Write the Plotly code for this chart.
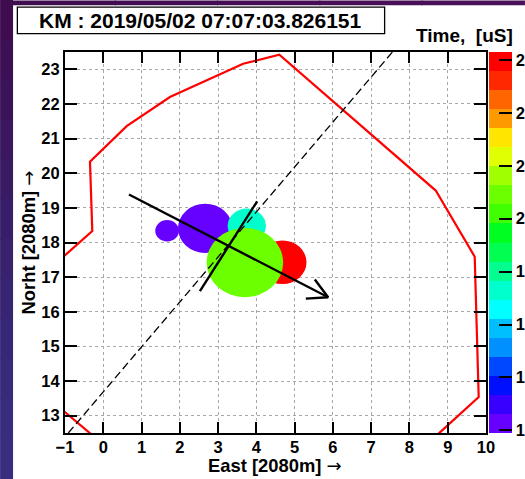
import plotly.graph_objects as go

# ---------------- data ----------------
x_range = [-1, 10]
y_range = [12.5, 23.5]
x_ticks = list(range(-1, 11))
y_ticks = list(range(13, 24))

# red boundary polygon (goes outside the frame and is clipped)
border_x = [-1.5, -1.0, -0.287, -0.347, 0.611, 1.741, 3.655, 4.60, 8.687, 9.705, 9.809, 8.79, 8.3, 0.0, -0.366, -1.0, -1.5, -1.5]
border_y = [17.14, 17.63, 18.33, 20.33, 21.36, 22.20, 23.16, 23.42, 19.50, 17.59, 13.54, 12.51, 12.0, 12.17, 12.51, 13.10, 13.57, 17.14]

# dashed long line
dash_x = [-0.914, 7.556]
dash_y = [12.5, 23.5]

# short solid line
short_x = [2.525, 4.021]
short_y = [16.595, 19.19]

# arrow shaft and head
arrow_x = [0.671, 5.875]
arrow_y = [19.385, 16.42]
head_x = [5.527, 5.875, 5.292]
head_y = [16.93, 16.42, 16.38]

# sources: centre, radius (data units), time [uS]
circle_x = [1.668, 2.663, 4.68, 3.75, 3.70]
circle_y = [18.34, 18.41, 17.43, 18.48, 17.42]
circle_r = [0.31, 0.71, 0.63, 0.50, 1.00]
circle_t = [18.05, 18.10, 21.50, 19.30, 20.20]

t_min, t_max = 17.975, 21.575
cbar_ticks = [18, 18.5, 19, 19.5, 20, 20.5, 21, 21.5]

band_colors = ["#6600FF", "#3800FF", "#0010FF", "#0048FF", "#0090FF", "#00BFFF",
               "#00FFFF", "#00FFCC", "#00FF90", "#00FF50", "#00FF20", "#40FF00",
               "#6CFF00", "#A0FF00", "#E0FF00", "#FFE600", "#FF9900", "#FF6600",
               "#FF2800", "#FF0000"]

title_text = "KM : 2019/05/02 07:07:03.826151"
x_title = "East [2080m]"
y_title = "Norht [2080m]"

# ---------------- layout helpers ----------------
W, H = 525, 479
L, R, T, B = 65, 486.5, 51.7, 433.3
def px_x(p):
    return (p - L) / (R - L)
def px_y(p):
    return (B - p) / (B - T)

n = len(band_colors)
colorscale = []
for i, c in enumerate(band_colors):
    colorscale.append([i / n, c])
    colorscale.append([(i + 1) / n, c])

def band_color(t):
    k = int((t - t_min) / (t_max - t_min) * n)
    k = max(0, min(n - 1, k))
    return band_colors[k]

font = "Liberation Sans, Arial, sans-serif"
arrow_span = "<span style='font-family:DejaVu Sans;font-weight:normal;font-size:18px'>\u2192</span>"

fig = go.Figure()

fig.add_trace(go.Scatter(x=border_x, y=border_y, mode="lines",
                         line=dict(color="#ff0000", width=2.2), hoverinfo="skip"))
fig.add_trace(go.Scatter(x=dash_x, y=dash_y, mode="lines",
                         line=dict(color="black", width=1.3, dash="8px,4px"), hoverinfo="skip"))
fig.add_trace(go.Scatter(x=short_x, y=short_y, mode="lines",
                         line=dict(color="black", width=2.4), hoverinfo="skip"))
fig.add_trace(go.Scatter(x=arrow_x, y=arrow_y, mode="lines",
                         line=dict(color="black", width=2.4), hoverinfo="skip"))
fig.add_trace(go.Scatter(x=head_x, y=head_y, mode="lines",
                         line=dict(color="black", width=2.4), hoverinfo="skip"))

# colour scale carrier
fig.add_trace(go.Scatter(
    x=circle_x, y=circle_y, mode="markers",
    marker=dict(color=circle_t, cmin=t_min, cmax=t_max, colorscale=colorscale,
                size=1, opacity=0, showscale=True,
                colorbar=dict(x=px_x(490), xanchor="left", xpad=0, ypad=0,
                              y=0, yanchor="bottom", len=1, lenmode="fraction",
                              thickness=23, outlinewidth=0,
                              ticks="inside", ticklen=13, tickwidth=2, tickcolor="black",
                              tickvals=cbar_ticks,
                              tickfont=dict(family=font, size=16.5, color="black", weight="bold"))),
    hoverinfo="skip"))

shapes = []
# dark background strips
left_cols = ["#3f0c50", "#3d0f55", "#3b1359", "#3a175e", "#391b63", "#381e68",
             "#38216d", "#372472", "#372776", "#372a7a", "#372c7d", "#382e80"]
for i, c in enumerate(left_cols):
    y0 = i * H / len(left_cols)
    y1 = (i + 1) * H / len(left_cols)
    shapes.append(dict(type="rect", xref="paper", yref="paper", layer="below",
                       x0=px_x(0), x1=px_x(13), y0=px_y(y1 + 0.5), y1=px_y(y0 - 0.5),
                       fillcolor=c, line=dict(width=0)))
top_cols = ["#3f0c50", "#420d52", "#450e54", "#480f56", "#4a1058"]
for i, c in enumerate(top_cols):
    x0 = 13 + i * (W - 13) / len(top_cols)
    x1 = 13 + (i + 1) * (W - 13) / len(top_cols)
    shapes.append(dict(type="rect", xref="paper", yref="paper", layer="below",
                       x0=px_x(x0 - 0.5), x1=px_x(x1 + 0.5), y0=px_y(5), y1=px_y(0),
                       fillcolor=c, line=dict(width=0)))
# title box
shapes.append(dict(type="rect", xref="paper", yref="paper", layer="above",
                   x0=px_x(17.3), x1=px_x(385), y0=px_y(33.3), y1=px_y(6.7),
                   fillcolor="white", line=dict(color="black", width=1.3)))
# sources as circles in data units
for cx, cy, r, t in zip(circle_x, circle_y, circle_r, circle_t):
    shapes.append(dict(type="circle", xref="x", yref="y", layer="between",
                       x0=cx - r, x1=cx + r, y0=cy - r, y1=cy + r,
                       fillcolor=band_color(t), line=dict(width=0)))

annotations = [
    dict(text=title_text, xref="paper", yref="paper", x=px_x(201), y=px_y(20.5),
         xanchor="center", yanchor="middle", showarrow=False,
         font=dict(family=font, size=21, color="black", weight="bold")),
    dict(text="Time,\u00a0 [uS]", xref="paper", yref="paper", x=px_x(515.5), y=px_y(35),
         xanchor="right", yanchor="middle", showarrow=False,
         font=dict(family=font, size=19, color="black", weight="bold")),
    # x-axis title
    dict(text="<b>" + x_title + "</b> " + arrow_span, xref="paper", yref="paper",
         x=px_x(275.5), y=px_y(478), xanchor="center", yanchor="bottom", showarrow=False,
         font=dict(family=font, size=18.4, color="black")),
]

axis_common = dict(showline=True, linecolor="black", linewidth=2, mirror="ticks",
                   ticks="inside", tickwidth=2, tickcolor="black",
                   showgrid=True, gridcolor="#a8a8a8", gridwidth=1, griddash="dot",
                   zeroline=False, fixedrange=True,
                   tickfont=dict(family=font, size=16.5, color="black", weight="bold"))

fig.update_layout(
    width=W, height=H,
    margin=dict(l=L, r=W - R, t=T, b=H - B, pad=0, autoexpand=False),
    paper_bgcolor="white", plot_bgcolor="white",
    showlegend=False,
    shapes=shapes, annotations=annotations,
    xaxis=dict(range=x_range, tickvals=x_ticks, ticklen=11, ticklabelstandoff=-2,
               **axis_common),
    yaxis=dict(range=y_range, tickvals=y_ticks, ticklen=12,
               title=dict(text="<b>" + y_title + "</b> " + arrow_span, standoff=1,
                          font=dict(family=font, size=18.4, color="black")),
               **axis_common),
)

fig.write_html("out.html", config=dict(displayModeBar=False, staticPlot=True),
               post_script="document.body.style.margin='0';")
